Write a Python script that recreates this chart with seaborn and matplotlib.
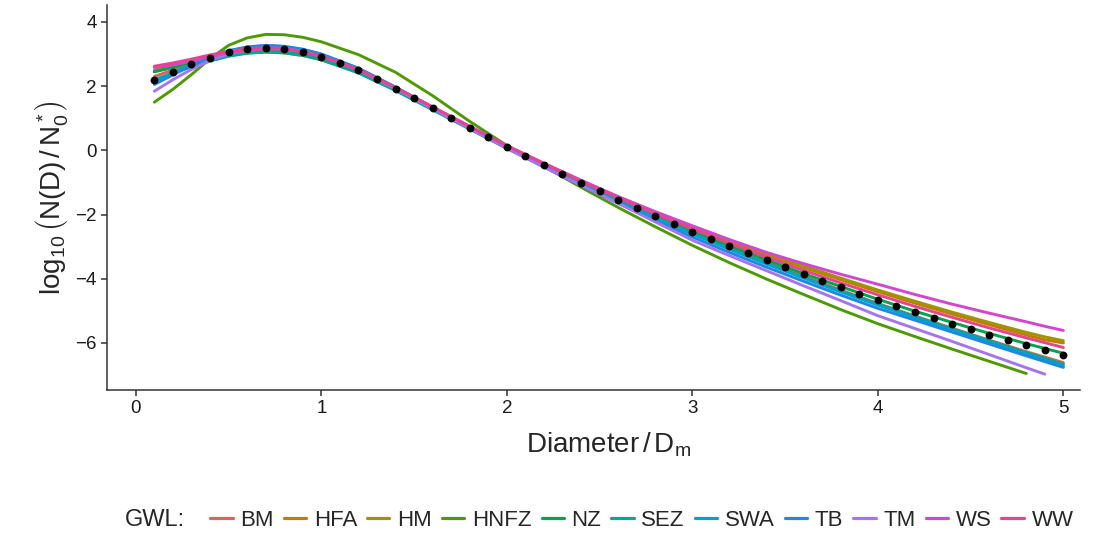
import numpy as np
import pandas as pd
import matplotlib
matplotlib.use('Agg')
import matplotlib.pyplot as plt
from matplotlib.lines import Line2D
import seaborn as sns

# diameter grid for the GWL curves (normalised by D_m)
x_grid = [0.1, 0.2, 0.3, 0.4, 0.5, 0.6, 0.7, 0.8, 0.9, 1.0,
          1.2, 1.4, 1.6, 1.8, 2.0, 2.2, 2.4, 2.6, 2.8, 3.0,
          3.2, 3.4, 3.6, 3.8, 4.0, 4.2, 4.4, 4.6, 4.8, 4.9, 5.0]

gwl_names = ['BM', 'HFA', 'HM', 'HNFZ', 'NZ', 'SEZ', 'SWA', 'TB', 'TM', 'WS', 'WW']

bm = [2.30, 2.50, 2.70, 2.88, 3.03, 3.12, 3.16, 3.13, 3.04, 2.89, 2.47, 1.91, 1.31, 0.71, 0.11, -0.45,
      -1.01, -1.55, -2.06, -2.56, -3.03, -3.48, -3.92, -4.35, -4.77, -5.16, -5.54, -5.91, -6.27, -6.44, -6.61]
hfa = [2.45, 2.58, 2.72, 2.86, 2.97, 3.04, 3.06, 3.03, 2.95, 2.82, 2.43, 1.89, 1.30, 0.71, 0.12, -0.43,
       -0.96, -1.47, -1.95, -2.41, -2.84, -3.25, -3.65, -4.03, -4.40, -4.76, -5.10, -5.43, -5.75, -5.90, -6.00]
hm = [2.50, 2.62, 2.75, 2.89, 3.01, 3.09, 3.13, 3.11, 3.03, 2.89, 2.48, 1.92, 1.32, 0.72, 0.13, -0.42,
      -0.95, -1.45, -1.92, -2.37, -2.80, -3.20, -3.60, -3.98, -4.35, -4.70, -5.04, -5.36, -5.67, -5.81, -5.93]
hnfz = [1.50, 1.90, 2.36, 2.85, 3.27, 3.50, 3.61, 3.60, 3.52, 3.38, 2.98, 2.43, 1.70, 0.90, 0.15, -0.50,
        -1.15, -1.78, -2.38, -2.96, -3.50, -4.01, -4.49, -4.96, -5.40, -5.80, -6.19, -6.57, -6.95, np.nan, np.nan]
nz = [2.45, 2.58, 2.74, 2.90, 3.04, 3.12, 3.15, 3.12, 3.03, 2.89, 2.47, 1.91, 1.31, 0.71, 0.11, -0.45,
      -1.00, -1.52, -2.02, -2.51, -2.97, -3.41, -3.84, -4.24, -4.64, -5.01, -5.36, -5.70, -6.02, -6.17, -6.32]
sez = [2.20, 2.40, 2.60, 2.78, 2.93, 3.02, 3.06, 3.04, 2.96, 2.82, 2.41, 1.86, 1.26, 0.66, 0.06, -0.50,
       -1.05, -1.59, -2.10, -2.60, -3.07, -3.52, -3.96, -4.38, -4.79, -5.18, -5.56, -5.93, -6.30, -6.48, -6.66]
swa = [2.15, 2.42, 2.68, 2.92, 3.10, 3.21, 3.26, 3.23, 3.14, 2.99, 2.55, 1.96, 1.33, 0.71, 0.09, -0.48,
       -1.04, -1.58, -2.09, -2.60, -3.08, -3.54, -3.98, -4.41, -4.82, -5.21, -5.59, -5.97, -6.34, -6.53, -6.72]
tb = [2.05, 2.35, 2.64, 2.90, 3.10, 3.22, 3.27, 3.24, 3.15, 3.00, 2.56, 1.97, 1.33, 0.70, 0.07, -0.52,
      -1.09, -1.65, -2.18, -2.70, -3.18, -3.64, -4.08, -4.51, -4.92, -5.29, -5.66, -6.03, -6.40, -6.58, -6.76]
tm = [1.84, 2.20, 2.52, 2.80, 3.00, 3.12, 3.18, 3.17, 3.08, 2.93, 2.50, 1.92, 1.30, 0.68, 0.06, -0.52,
      -1.09, -1.65, -2.23, -2.80, -3.28, -3.75, -4.22, -4.68, -5.15, -5.55, -5.95, -6.36, -6.77, -6.97, np.nan]
ws = [2.58, 2.66, 2.78, 2.92, 3.04, 3.12, 3.16, 3.14, 3.06, 2.92, 2.51, 1.95, 1.35, 0.75, 0.15, -0.40,
      -0.93, -1.44, -1.91, -2.35, -2.78, -3.18, -3.53, -3.86, -4.17, -4.49, -4.79, -5.07, -5.34, -5.48, -5.61]
ww = [2.62, 2.72, 2.84, 2.97, 3.08, 3.16, 3.20, 3.17, 3.08, 2.94, 2.52, 1.96, 1.35, 0.74, 0.14, -0.42,
      -0.96, -1.48, -1.98, -2.45, -2.90, -3.33, -3.74, -4.13, -4.50, -4.86, -5.20, -5.53, -5.84, -5.99, -6.14]

# overall (all GWL) distribution, shown as black dots
x_all = [0.1, 0.2, 0.3, 0.4, 0.5, 0.6, 0.7, 0.8, 0.9, 1.0, 1.1, 1.2, 1.3, 1.4, 1.5, 1.6, 1.7,
         1.8, 1.9, 2.0, 2.1, 2.2, 2.3, 2.4, 2.5, 2.6, 2.7, 2.8, 2.9, 3.0, 3.1, 3.2, 3.3, 3.4,
         3.5, 3.6, 3.7, 3.8, 3.9, 4.0, 4.1, 4.2, 4.3, 4.4, 4.5, 4.6, 4.7, 4.8, 4.9, 5.0]
y_all = [2.20, 2.45, 2.68, 2.89, 3.05, 3.14, 3.18, 3.15, 3.06, 2.91, 2.72, 2.49, 2.21, 1.92, 1.62,
         1.31, 1.02, 0.70, 0.41, 0.10, -0.18, -0.46, -0.75, -1.01, -1.28, -1.54, -1.80, -2.04,
         -2.29, -2.53, -2.76, -2.99, -3.20, -3.43, -3.64, -3.86, -4.07, -4.27, -4.46, -4.67,
         -4.85, -5.04, -5.22, -5.40, -5.56, -5.74, -5.90, -6.06, -6.21, -6.38]

gwl_colors = ['#D8645A', '#C27C00', '#A09300', '#4E9A06', '#00A450', '#00A894',
              '#00A3C8', '#1E88E5', '#A575F0', '#D445D2', '#E4458F']

series = [bm, hfa, hm, hnfz, nz, sez, swa, tb, tm, ws, ww]
df = pd.concat([pd.DataFrame({'x': x_grid, 'y': vals, 'GWL': name})
                for name, vals in zip(gwl_names, series)]).dropna()

sns.set_style('ticks')
plt.rcParams['font.family'] = ['Liberation Sans', 'DejaVu Sans']
plt.rcParams['mathtext.fontset'] = 'custom'
plt.rcParams['mathtext.rm'] = 'Liberation Sans'
plt.rcParams['mathtext.it'] = 'Liberation Sans:italic'

fig = plt.figure(figsize=(11.07, 5.4), dpi=100)
ax = fig.add_axes([0.0967, 0.278, 0.879, 0.713])

sns.lineplot(data=df, x='x', y='y', hue='GWL', hue_order=gwl_names,
             palette=gwl_colors, estimator=None, sort=True, linewidth=2.1,
             legend=False, ax=ax)
ax.scatter(x_all, y_all, s=32, color='black', zorder=5, linewidths=0)

ax.set_xlim(-0.155, 5.09)
ax.set_ylim(-7.46, 4.53)
ax.set_xticks([0, 1, 2, 3, 4, 5])
ax.set_yticks([-6, -4, -2, 0, 2, 4])
ax.tick_params(axis='both', direction='out', length=4.5, width=1.1, color='#333333',
               labelsize=13.5, labelcolor='#1a1a1a', pad=3, bottom=True, left=True)
for side in ['top', 'right']:
    ax.spines[side].set_visible(False)
for side in ['left', 'bottom']:
    ax.spines[side].set_color('#333333')
    ax.spines[side].set_linewidth(1.1)

ax.set_xlabel(r'$\mathrm{Diameter\,/\,D_m}$', fontsize=20, labelpad=6)
ax.xaxis.set_label_coords(0.515, -0.105)
ax.set_ylabel(r'$\mathrm{log_{10}\,\left(N(D)\,/\,N_0^*\right)}$', fontsize=20, labelpad=4)

handles = [Line2D([], [], color=c, lw=2.3) for c in gwl_colors]
fig.text(0.113, 0.037, 'GWL:', fontsize=17, ha='left', va='center')
fig.legend(handles, gwl_names, loc='center left', bbox_to_anchor=(0.19, 0.037),
           ncol=11, frameon=False, fontsize=16, handlelength=1.0,
           handletextpad=0.35, columnspacing=0.45, borderaxespad=0, borderpad=0)

fig.savefig('out.png', dpi=100)
plt.close(fig)
